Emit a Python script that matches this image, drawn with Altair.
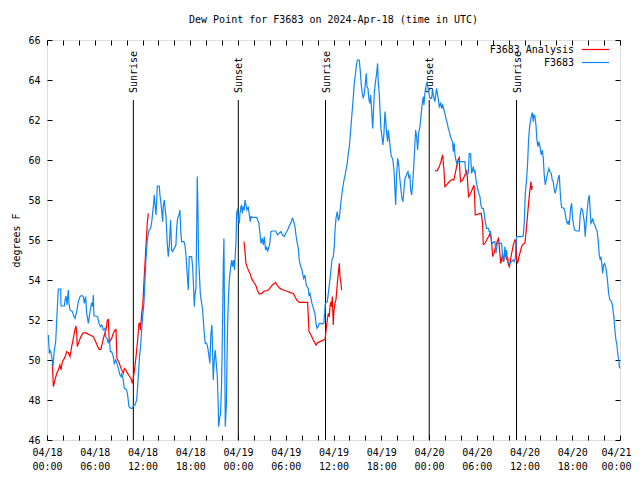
import altair as alt
import pandas as pd

# ---------------- data (hours since 2024-04-18 00:00 UTC, dew point in F) ----------------
blue_hours = [
    0.17, 0.29, 0.42, 0.59, 0.75, 0.92, 1.09, 1.22, 1.34, 1.42, 1.72, 1.76, 2.18, 2.26, 2.39, 2.51,
    2.68, 2.76, 2.89, 3.18, 3.39, 3.52, 3.73, 3.94, 4.15, 4.36, 4.57, 4.69, 4.86, 4.98, 5.11, 5.19,
    5.32, 5.44, 5.61, 5.74, 5.82, 5.9, 6.11, 6.36, 6.53, 6.7, 6.87, 7.08, 7.29, 7.37, 7.54, 7.71,
    7.83, 7.96, 8.12, 8.33, 8.46, 8.63, 8.75, 8.96, 9.17, 9.3, 9.38, 9.55, 9.72, 9.88, 10.01, 10.13,
    10.3, 10.55, 10.72, 10.85, 11.06, 11.27, 11.47, 11.64,
    11.76, 11.89, 12.02, 12.18, 12.31, 12.43, 12.6, 12.81, 13.02, 13.19, 13.27, 13.4, 13.48, 13.6,
    13.69, 13.77, 13.86, 14.11, 14.19, 14.32, 14.44, 14.53, 14.61, 14.74, 14.82, 14.95, 15.11, 15.24,
    15.36, 15.53, 15.66, 15.78, 15.99, 16.2, 16.29, 16.41, 16.58, 16.7, 16.79, 16.91, 17.21, 17.33,
    17.46, 17.63, 17.75, 17.88, 18.17, 18.3, 18.38, 18.51, 18.59, 18.72, 18.8, 18.88, 18.97, 19.05,
    19.13, 19.26, 19.43, 19.55, 19.64, 19.76, 19.89, 20.05, 20.18, 20.31, 20.47, 20.6, 20.72, 20.81,
    20.89, 21.02, 21.14, 21.27, 21.4, 21.52, 21.56, 21.69, 21.81, 21.94, 22.06, 22.15, 22.23, 22.32,
    22.4, 22.53, 22.61, 22.69, 22.82, 22.94, 23.07, 23.2, 23.32, 23.45, 23.57,
    23.62, 23.75, 23.83, 23.96, 24.04, 24.16, 24.25, 24.37, 24.46, 24.54, 24.67, 24.79, 24.88, 25.0,
    25.13, 25.29, 25.42, 25.55, 25.63, 25.8, 26.34, 26.47, 26.63, 26.76, 26.89, 27.05, 27.18, 27.3,
    27.47, 27.6, 27.72, 27.89, 27.97, 28.14, 28.31, 28.73, 28.98, 29.15, 29.4, 29.57, 29.82, 29.99,
    30.24, 30.4, 30.66, 30.82, 30.95, 31.16, 31.28, 31.41, 31.58, 31.7, 31.87, 32.0, 32.12, 32.25,
    32.41, 32.54, 32.67, 32.83, 32.92, 33.04, 33.17, 33.29, 33.42, 33.54, 33.67, 33.8, 33.92, 34.09,
    34.21, 34.42, 34.63,
    34.8, 34.89, 34.97, 35.22, 35.35, 35.47, 35.64, 35.81, 35.97, 36.1, 36.18, 36.31, 36.48, 36.6,
    36.73, 36.9, 37.02, 37.15, 37.32, 37.44, 37.57, 37.73, 37.86, 37.99, 38.11, 38.24, 38.36, 38.49,
    38.61, 38.74, 38.86, 38.99, 39.24, 39.37, 39.49, 39.62, 39.74, 39.87, 40.0, 40.12, 40.2, 40.33,
    40.46, 40.58, 40.67, 40.79, 40.92, 41.0, 41.13, 41.25, 41.42, 41.54, 41.63, 41.75, 41.84, 41.96,
    42.09, 42.21, 42.34, 42.47, 42.59, 42.68, 42.8, 42.88, 43.01, 43.14, 43.26, 43.43, 43.6, 43.72,
    43.81, 43.93, 44.06, 44.18, 44.35, 44.48, 44.6, 44.73, 44.85, 44.98, 45.1, 45.23, 45.36, 45.48,
    45.6, 45.69, 45.82, 45.94, 46.07, 46.19, 46.32, 46.44, 46.57, 46.7, 46.86,
    47.11, 47.28, 47.36, 47.49, 47.61, 47.78, 47.91, 48.12, 48.33, 48.45, 48.62, 48.74, 48.95, 49.16,
    49.29, 49.46, 49.58, 49.71, 49.88, 50.0, 50.13, 50.3, 50.42, 50.55, 50.71, 50.84, 50.96, 51.05,
    51.17, 51.26, 51.38, 51.55, 51.68, 52.3, 52.51, 52.64, 52.81, 52.93, 53.06, 53.23, 53.35, 53.48,
    53.56, 53.69, 53.77, 53.9, 54.02, 54.15, 54.27, 54.4, 54.52, 54.65, 54.82, 54.94, 55.07, 55.24,
    55.45, 55.57, 55.74, 55.86, 55.99, 56.16, 56.28, 56.41, 56.58, 56.7, 56.91, 57.12, 57.25, 57.41,
    57.54, 57.66, 57.75, 57.87, 57.96, 58.17, 58.38, 58.59, 58.71, 58.84,
    59.0, 59.63, 59.84, 59.97, 60.1, 60.26, 60.39, 60.51, 60.64, 60.77, 60.89, 60.98, 61.1, 61.19,
    61.31, 61.44, 61.56, 61.69, 61.81, 61.94, 62.11, 62.23, 62.36, 62.48, 62.61, 62.73, 62.9, 63.07,
    63.19, 63.36, 63.49, 63.61, 63.74, 63.86, 63.99, 64.16, 64.24, 64.37, 64.45, 64.54, 64.66, 64.95,
    65.08, 65.2, 65.37, 65.49, 65.62, 65.79, 65.92, 66.04, 66.17, 66.29, 66.54, 66.88, 67.0, 67.13,
    67.3, 67.38, 67.51, 67.63, 67.76, 67.88, 68.01, 68.14, 68.22, 68.35, 68.47, 68.56, 68.72, 68.85,
    68.97, 69.14, 69.27, 69.39, 69.52, 69.6, 69.73, 69.81, 69.94, 70.06, 70.19, 70.31, 70.44, 70.57,
    70.73, 70.94, 71.07, 71.23, 71.36, 71.49, 71.61, 71.74, 71.86, 71.95,
]
blue_values = [
    51.25, 50.33, 50.5, 50.17, 49.67, 50.5, 50.9, 52.0, 52.92, 53.55, 53.55, 52.7, 52.7, 53.0, 53.2, 52.75,
    53.5, 52.83, 52.5, 52.42, 52.17, 52.08, 52.42, 52.92, 53.17, 53.23, 53.17, 52.83, 53.17, 52.33, 52.08, 51.83,
    52.17, 52.5, 52.87, 52.67, 53.25, 52.2, 52.2, 52.17, 51.83, 51.67, 51.75, 51.5, 51.58, 51.17, 51.08, 50.83,
    51.08, 50.42, 50.42, 50.17, 49.83, 50.0, 49.87, 49.58, 49.25, 49.17, 49.33, 49.08, 48.58, 48.55, 48.5, 48.25,
    47.67, 47.58, 47.58, 47.72, 47.75, 48.0, 49.17, 50.25,
    50.67, 51.5, 52.17, 52.83, 54.0, 55.0, 56.0, 56.5, 56.58, 57.0, 57.33, 57.83, 58.25, 57.67,
    57.25, 57.83, 58.7, 58.7, 58.25, 57.83, 57.33, 56.92, 57.67, 58.0, 57.67, 57.17, 55.83, 55.17,
    55.67, 57.0, 55.5, 55.42, 55.58, 55.75, 56.58, 57.08, 57.25, 57.5, 56.58, 55.92, 55.92, 55.75,
    55.25, 54.25, 53.5, 55.17, 55.17, 54.67, 54.0, 52.67, 53.25, 53.58, 56.17, 59.17, 57.5, 55.0,
    54.5, 53.33, 52.83, 52.5, 52.0, 51.33, 50.83, 50.83, 50.67, 50.33, 49.83, 51.33, 51.75, 50.5,
    49.0, 50.0, 50.5, 49.83, 49.17, 47.67, 46.67, 47.08, 47.33, 48.83, 51.83, 54.67, 56.08, 51.33,
    46.67, 47.67, 49.67, 51.67, 53.33, 54.17, 54.58, 55.0, 54.67, 55.0, 54.5,
    55.0, 55.92, 57.33, 57.58, 57.08, 56.83, 57.33, 57.67, 57.75, 57.33, 57.67, 57.5, 58.0, 57.75,
    57.5, 57.67, 57.25, 56.92, 57.17, 57.13, 57.13, 57.0, 56.83, 56.33, 55.83, 56.08, 55.75, 56.17,
    55.5, 55.67, 55.42, 55.67, 55.75, 56.42, 56.45, 56.45, 56.25, 56.33, 56.42, 56.25, 56.17, 56.33,
    56.5, 56.67, 56.87, 57.08, 57.0, 56.67, 56.25, 55.92, 55.58, 55.0, 54.67, 54.58, 54.33, 54.08,
    54.25, 53.83, 53.67, 53.58, 53.25, 53.33, 53.08, 52.83, 52.67, 52.5, 52.33, 51.83, 51.58, 51.67,
    51.83, 51.83, 51.8,
    51.87, 52.33, 52.83, 52.92, 53.33, 53.75, 54.33, 55.0, 55.17, 55.67, 56.42, 57.08, 57.42, 57.0,
    57.08, 57.75, 58.17, 58.58, 59.0, 59.2, 59.5, 59.83, 60.33, 60.67, 61.25, 61.92, 62.5, 63.17,
    63.83, 64.25, 64.67, 65.0, 65.0, 64.42, 63.75, 63.33, 63.08, 63.33, 63.83, 64.33, 63.67, 63.58,
    63.0, 62.83, 63.25, 62.5, 61.58, 62.25, 63.33, 63.83, 64.33, 64.83, 63.83, 63.33, 62.5, 61.58,
    61.17, 60.75, 61.33, 62.42, 61.83, 61.33, 60.92, 61.5, 61.08, 60.58, 60.17, 60.08, 59.5, 58.5,
    57.75, 59.25, 60.08, 59.83, 59.0, 58.5, 58.08, 57.92, 58.5, 59.08, 59.17, 59.33, 59.42, 59.08,
    59.25, 58.5, 58.25, 58.75, 59.58, 60.5, 61.5, 61.17, 60.5, 61.33, 61.67,
    62.67, 63.17, 62.75, 63.33, 63.67, 63.92, 63.5, 63.08, 63.08, 63.5, 63.08, 62.92, 63.58, 63.08,
    62.67, 62.83, 62.58, 62.75, 62.5, 62.33, 62.08, 61.83, 61.58, 61.42, 61.17, 61.0, 60.92, 60.42,
    60.83, 60.25, 60.0, 59.75, 59.92, 59.92, 59.92, 59.25, 59.25, 59.33, 60.33, 60.3, 59.33, 59.5,
    59.67, 59.42, 59.5, 59.0, 58.75, 58.5, 58.33, 58.17, 57.75, 57.58, 57.58, 57.33, 56.92, 56.58,
    56.58, 56.42, 56.42, 55.92, 55.83, 55.92, 55.92, 55.33, 55.83, 55.87, 55.83, 55.83, 55.17, 54.92,
    55.67, 55.17, 55.5, 54.92, 54.83, 54.83, 54.92, 55.0, 54.92, 55.08,
    56.17, 56.17, 56.2, 56.83, 58.33, 59.0, 59.83, 61.0, 61.67, 62.0, 62.25, 62.37, 61.92, 62.25,
    62.2, 61.75, 61.0, 60.67, 60.92, 60.67, 60.25, 60.5, 60.08, 59.25, 58.75, 59.0, 59.33, 59.58,
    59.42, 59.33, 59.0, 58.92, 58.5, 58.33, 58.58, 58.92, 59.08, 59.25, 58.67, 58.08, 57.63, 57.58,
    57.42, 57.08, 56.83, 56.92, 56.75, 57.58, 57.83, 57.08, 56.75, 56.5, 56.45, 56.45, 57.25, 57.58,
    57.5, 57.25, 56.92, 56.17, 56.92, 57.5, 58.0, 58.25, 57.67, 56.83, 56.92, 57.08, 56.83, 56.75,
    56.58, 56.42, 55.92, 55.25, 55.0, 55.17, 54.75, 54.33, 54.75, 54.83, 54.67, 54.42, 53.92, 53.33,
    53.0, 52.92, 52.67, 52.17, 51.5, 51.0, 50.75, 50.25, 49.92, 49.58,
]

red1_hours = [0.67, 0.8, 1.0, 1.22, 1.42, 1.63, 1.76, 1.93, 2.18, 2.35, 2.47, 2.68, 2.89, 3.1, 3.31, 3.52,
              3.64, 3.73, 3.81, 4.02, 4.27, 4.48, 4.69, 4.98, 5.4, 5.82, 6.11, 6.36, 6.57, 6.78, 6.99, 7.2,
              7.41, 7.58, 7.71, 7.79, 7.87, 8.12, 8.33, 8.54, 8.67, 8.79, 9.05, 9.3, 9.59, 9.72, 9.92, 10.13,
              10.34, 10.55, 10.72, 10.8, 10.97, 11.14, 11.27, 11.39, 11.56, 11.68, 11.76, 11.89, 12.02, 12.1,
              12.22, 12.35, 12.48, 12.6, 12.73]
red1_values = [49.83, 48.67, 49.0, 49.33, 49.5, 49.75, 49.5, 49.92, 50.08, 50.25, 50.42, 50.37, 50.17, 50.67, 51.08, 51.53,
               51.7, 51.33, 50.67, 50.92, 51.17, 51.33, 51.38, 51.33, 51.25, 51.17, 50.92, 50.67, 50.53, 50.53, 50.92, 51.25,
               51.5, 52.0, 52.03, 51.17, 50.92, 51.08, 51.33, 51.5, 51.53, 50.08, 49.87, 49.58, 49.33, 49.58, 49.5, 49.33,
               49.2, 49.08, 48.83, 49.0, 49.42, 50.0, 50.5, 51.0, 51.83, 51.83, 51.5, 52.33, 52.67, 53.25,
               54.17, 55.08, 56.0, 56.83, 57.33]
red2_hours = [24.75, 24.88, 25.0, 25.21, 25.5, 25.71, 25.92, 26.22, 26.43, 26.68, 26.97, 27.31, 27.6, 27.81, 28.14, 28.44,
              28.73, 28.98, 29.27, 29.69, 30.11, 30.53, 30.95, 31.16, 31.37, 31.7, 32.41, 32.75, 32.83, 32.92, 33.17, 33.46,
              33.8, 34.0, 34.3, 34.59, 34.93, 35.05, 35.22, 35.35, 35.47, 35.56, 35.68, 35.77, 35.85, 35.97, 36.06, 36.18,
              36.31, 36.48, 36.6, 36.73, 36.81, 36.94, 37.02]
red2_values = [55.92, 55.42, 54.83, 54.58, 54.33, 54.08, 53.92, 53.75, 53.5, 53.3, 53.33, 53.45, 53.47, 53.5, 53.67, 53.8,
               53.87, 53.7, 53.58, 53.5, 53.45, 53.37, 53.33, 53.17, 53.0, 52.88, 52.88, 52.88, 52.17, 51.42, 51.25, 51.0,
               50.75, 50.87, 50.92, 50.97, 51.03, 51.42, 52.0, 52.33, 52.17, 52.67, 52.92, 52.67, 53.17, 51.75, 52.5, 52.83,
               53.0, 53.83, 54.33, 54.83, 54.17, 53.83, 53.5]
red3_hours = [48.74, 49.04, 49.29, 49.5, 49.71, 49.88, 50.0, 50.3, 50.63, 50.96, 51.13, 51.3, 51.47, 51.63, 51.8, 51.89,
              51.97, 52.22, 52.43, 52.64, 52.72, 52.81, 52.97, 53.23, 53.48, 53.65, 53.73, 53.81, 54.06, 54.4, 54.57, 54.73,
              54.82, 55.03, 55.24, 55.49, 55.65, 55.78, 55.91, 55.99, 56.16, 56.32, 56.49, 56.62, 56.74, 56.91, 57.0, 57.12,
              57.25, 57.33, 57.46, 57.58, 57.75, 57.87, 58.0, 58.08, 58.17, 58.38, 58.59, 58.8, 58.92, 59.0, 59.13, 59.26,
              59.42, 59.63, 59.84, 60.05, 60.18, 60.35, 60.51, 60.68, 60.81, 60.89, 60.98]
red3_values = [59.45, 59.47, 59.67, 59.92, 60.25, 59.5, 58.67, 58.8, 58.95, 59.03, 59.0, 59.33, 59.67, 60.0, 60.12, 59.33,
               58.92, 59.0, 59.17, 59.37, 59.5, 59.17, 58.17, 58.33, 58.58, 58.75, 58.17, 57.25, 57.28, 57.33, 57.33, 56.83,
               55.78, 55.83, 56.0, 56.17, 56.33, 56.17, 55.67, 55.17, 55.33, 55.58, 55.83, 56.0, 56.08, 55.33, 54.83, 55.0,
               55.33, 54.92, 55.17, 55.42, 55.0, 55.17, 54.75, 54.67, 54.83, 55.33, 55.75, 56.0, 55.92, 55.0, 54.83, 55.08,
               55.33, 55.67, 55.8, 55.83, 56.33, 57.08, 57.83, 58.5, 58.92, 58.5, 58.7]

event_hours = [10.85, 24.04, 35.0, 48.03, 59.0]
event_labels = ["Sunrise", "Sunset", "Sunrise", "Sunset", "Sunrise"]

x_tick_hours = list(range(0, 73, 2))
x_label_hours = list(range(0, 73, 6))
y_ticks = list(range(46, 67, 2))
legend_names = ["F3683 Analysis", "F3683"]

TITLE = "Dew Point for F3683 on 2024-Apr-18 (time in UTC)"
FONT = "DejaVu Sans Mono"
RED = "#ff0000"
BLUE = "#0f86f5"

# ---------------- frames ----------------
blue_df = pd.DataFrame({"hour": blue_hours, "dewpoint": blue_values})
red_df = pd.DataFrame({
    "hour": red1_hours + red2_hours + red3_hours,
    "dewpoint": red1_values + red2_values + red3_values,
    "segment": [1] * len(red1_hours) + [2] * len(red2_hours) + [3] * len(red3_hours),
})
event_df = pd.DataFrame({"hour": event_hours, "label": event_labels})

xscale = alt.Scale(domain=[0, 72], nice=False, zero=False)
yscale = alt.Scale(domain=[46, 66], nice=False, zero=False)

label_expr = ("['04/' + (18 + floor(datum.value / 24)), "
              "(datum.value % 24 < 10 ? '0' : '') + (datum.value % 24) + ':00']")

x_label_axis = alt.Axis(orient="bottom", values=x_label_hours, labelExpr=label_expr, ticks=False,
                        domain=False, grid=False, title=None, labelFont=FONT, labelFontSize=10,
                        labelColor="black", labelPadding=7, labelLineHeight=14, labelFlush=False,
                        labelOverlap=False, labelBound=False,
                        labelOffset={"condition": {"test": "datum.value >= 72", "value": -4}, "value": 0})
y_label_axis = alt.Axis(orient="left", values=y_ticks, format="d", ticks=False, domain=False,
                        grid=False, title="degrees F", titleFont=FONT, titleFontSize=10,
                        titleFontWeight="normal", titleColor="black", titlePadding=6,
                        labelFont=FONT, labelFontSize=10, labelColor="black", labelPadding=7,
                        labelFlush=False, labelOverlap=False, labelBound=False)


def tick_axis(orient, values, offset):
    return alt.Axis(orient=orient, values=values, offset=offset, labels=False, domain=False,
                    grid=False, ticks=True, tickSize=5, tickColor="black", tickWidth=1, title=None)


blue_line = alt.Chart(blue_df).mark_line(color=BLUE, strokeWidth=1.2).encode(
    x=alt.X("hour:Q", scale=xscale, axis=x_label_axis),
    y=alt.Y("dewpoint:Q", scale=yscale, axis=y_label_axis),
)

red_line = alt.Chart(red_df).mark_line(color=RED, strokeWidth=1.2).encode(
    x=alt.X("hour:Q", scale=xscale, axis=tick_axis("top", x_tick_hours, -400)),
    y=alt.Y("dewpoint:Q", scale=yscale, axis=tick_axis("right", y_ticks, -573)),
    detail="segment:N",
)

event_rules = alt.Chart(event_df).mark_rule(color="black", strokeWidth=1).encode(
    x=alt.X("hour:Q", scale=xscale, axis=tick_axis("bottom", x_tick_hours, -400)),
    y=alt.YDatum(63, type="quantitative", scale=yscale, axis=tick_axis("left", y_ticks, -573)),
    y2=alt.datum(46),
)

event_text = alt.Chart(event_df).mark_text(
    angle=270, align="left", baseline="middle", dy=1, font=FONT, fontSize=10, color="black"
).encode(
    x=alt.X("hour:Q", scale=xscale, axis=None),
    y=alt.YDatum(63.35, type="quantitative", scale=yscale, axis=None),
    text="label:N",
)

legend_layers = []
for i, (name, col) in enumerate(zip(legend_names, [RED, BLUE])):
    ldf = pd.DataFrame({"name": [name]})
    legend_layers.append(
        alt.Chart(ldf).mark_text(align="right", baseline="middle", font=FONT, fontSize=10,
                                 color="black").encode(
            text="name:N", x=alt.value(527), y=alt.value(10 + 13 * i))
    )
    legend_layers.append(
        alt.Chart(ldf).mark_rule(color=col, strokeWidth=1.2).encode(
            x=alt.value(535), x2=alt.value(562), y=alt.value(9.5 + 13 * i))
    )

chart = alt.layer(event_rules, event_text, red_line, blue_line, *legend_layers).resolve_axis(
    x="independent", y="independent"
).properties(
    width=573,
    height=400,
    autosize=alt.AutoSizeParams(type="none"),
    padding={"left": 39, "top": 32, "right": 12, "bottom": 32},
    title=alt.Title(TITLE, font=FONT, fontSize=10, fontWeight="normal", color="black",
                    offset=10, frame="group", anchor="middle"),
).configure_view(stroke="black", strokeWidth=1).configure(background="white")

chart.save("out.html", embed_options={"renderer": "svg", "actions": False})
